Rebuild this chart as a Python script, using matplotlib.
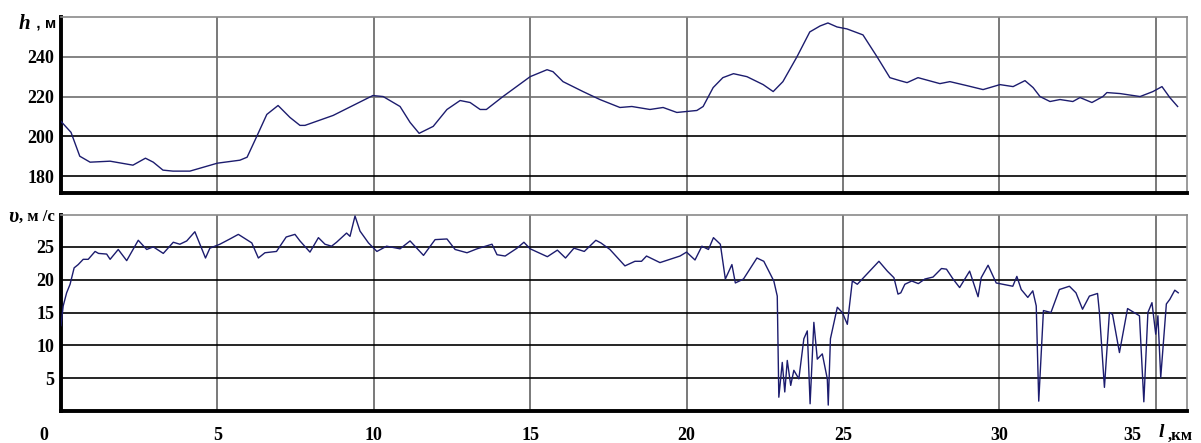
import matplotlib
matplotlib.use("Agg")
import matplotlib.pyplot as plt

# ---- data ----
h_km = [0.0, 0.32, 0.6, 0.93, 1.57, 2.3, 2.7, 2.95, 3.26, 3.58, 4.12, 5.0, 5.72, 5.95,
        6.26, 6.58, 6.94, 7.32, 7.64, 7.8, 8.7, 9.97, 10.3, 10.84, 11.16, 11.45, 11.9,
        12.34, 12.76, 13.08, 13.4, 13.6, 14.13, 15.0, 15.54, 15.73, 16.05, 16.69, 17.23,
        17.87, 18.25, 18.83, 19.25, 19.69, 20.33, 20.53, 20.85, 21.16, 21.5, 21.93, 22.45,
        22.77, 23.08, 23.53, 23.94, 24.27, 24.52, 24.81, 25.13, 25.64, 26.09, 26.5, 26.82,
        27.05, 27.4, 28.1, 28.42, 28.96, 29.48, 30.02, 30.44, 30.82, 31.08, 31.3, 31.62,
        31.94, 32.35, 32.58, 32.96, 33.31, 33.44, 33.86, 34.5, 34.91, 35.2, 35.45, 35.7]
h_m = [207.5, 202, 190, 187, 187.5, 185.5, 189, 187, 183, 182.5, 182.5, 186.5, 188, 189.5,
       200, 211, 215.5, 209.5, 205.5, 205.5, 210.5, 220.5, 220, 215, 207, 201.5, 205,
       213.5, 218, 217, 213.5, 213.5, 220, 230, 233.5, 232.5, 227.5, 222.5, 218.5,
       214.5, 215, 213.5, 214.5, 212, 213, 215, 224.5, 229.5, 231.5, 230, 226,
       222.5, 227.5, 240, 252.5, 255.5, 257, 255, 254, 251, 240, 229.5, 228,
       227, 229.5, 226.5, 227.5, 225.5, 223.5, 226, 225, 228, 224.5, 220, 217.5,
       218.5, 217.5, 219.5, 217, 220, 222, 221.5, 220, 222.5, 225, 219.5, 215]

v_km = [0.0, 0.07, 0.18, 0.29, 0.42, 0.55, 0.71, 0.87, 1.09, 1.2, 1.46, 1.57, 1.83, 2.1,
        2.47, 2.74, 2.95, 3.27, 3.59, 3.8, 4.02, 4.28, 4.44, 4.62, 4.76, 5.08, 5.4, 5.67,
        6.1, 6.31, 6.52, 6.89, 7.2, 7.48, 7.64, 7.96, 8.23, 8.44, 8.65, 8.81, 9.13, 9.24,
        9.4, 9.56, 9.83, 10.1, 10.41, 10.84, 11.16, 11.59, 11.96, 12.34, 12.6, 12.98, 13.3,
        13.78, 13.94, 14.2, 14.58, 14.8, 15.0, 15.55, 15.87, 16.13, 16.4, 16.73, 17.1,
        17.26, 17.55, 18.03, 18.35, 18.56, 18.72, 19.15, 19.79, 20.0, 20.27, 20.49, 20.7,
        20.86, 21.08, 21.24, 21.45, 21.56, 21.82, 22.25, 22.47, 22.79, 22.9, 22.95, 23.06,
        23.14, 23.22, 23.33, 23.43, 23.59, 23.75, 23.86, 23.95, 24.07, 24.18, 24.34, 24.5,
        24.53, 24.6, 24.82, 24.98, 25.14, 25.3, 25.46, 26.15, 26.42, 26.63, 26.76, 26.85,
        26.98, 27.2, 27.41, 27.62, 27.88, 28.15, 28.31, 28.52, 28.73, 29.05, 29.32, 29.42,
        29.64, 29.9, 30.11, 30.43, 30.56, 30.7, 30.91, 31.07, 31.18, 31.26, 31.41, 31.65,
        31.92, 32.24, 32.45, 32.66, 32.88, 33.14, 33.2, 33.36, 33.52, 33.62, 33.84, 34.1,
        34.48, 34.62, 34.75, 34.88, 35.0, 35.07, 35.16, 35.34, 35.45, 35.61, 35.72]
v_ms = [13.0, 16.0, 18.0, 19.3, 21.8, 22.3, 23.1, 23.1, 24.3, 24.0, 23.9, 23.1, 24.6, 22.9,
        26.0, 24.6, 25.0, 24.0, 25.7, 25.4, 25.9, 27.3, 25.4, 23.3, 24.8, 25.4, 26.2, 26.9,
        25.6, 23.3, 24.1, 24.3, 26.5, 26.9, 25.9, 24.2, 26.4, 25.4, 25.1, 25.7, 27.1, 26.6,
        29.7, 27.4, 25.6, 24.3, 25.1, 24.7, 25.9, 23.7, 26.1, 26.2, 24.6, 24.1, 24.7,
        25.4, 23.8, 23.6, 24.8, 25.7, 24.7, 23.5, 24.5, 23.3, 24.8, 24.3, 26.0,
        25.6, 24.6, 22.1, 22.8, 22.8, 23.6, 22.6, 23.6, 24.2, 23.0, 25.1, 24.6,
        26.4, 25.4, 20.1, 22.3, 19.5, 20.1, 23.3, 22.8, 19.8, 17.5, 2.1, 7.4,
        2.9, 7.7, 3.9, 6.2, 4.9, 11.0, 12.2, 1.1, 13.5, 7.9, 8.7, 4.9,
        0.9, 11.0, 15.8, 15.0, 13.2, 19.8, 19.3, 22.8, 21.3, 20.3, 17.8, 18.0,
        19.3, 19.8, 19.4, 20.1, 20.4, 21.7, 21.6, 20.1, 18.8, 21.3, 17.4, 20.3,
        22.2, 19.5, 19.3, 19.0, 20.5, 18.5, 17.3, 18.3, 16.0, 1.5, 15.3, 15.0,
        18.5, 19.0, 18.0, 15.5, 17.5, 17.9, 15.0, 3.6, 15.0, 14.7, 8.9, 15.6,
        14.5, 1.4, 15.0, 16.5, 11.7, 14.5, 5.1, 16.3, 17.0, 18.4, 18.0]

x_ticks = [0, 5, 10, 15, 20, 25, 30, 35]
h_ticks = [180, 200, 220, 240]
v_ticks = [5, 10, 15, 20, 25]

# ---- style ----
W, H = 1201, 443
SERIF = "Liberation Serif"
LINE = "#1c1c6e"
GRID_V = "#6e6e6e"
FS = 13

fig = plt.figure(figsize=(W / 100, H / 100), dpi=100)

def frac_box(l, t, r, b):
    return [l / W, 1 - b / H, (r - l) / W, (b - t) / H]

ax1 = fig.add_axes(frac_box(61, 17, 1187, 193))
ax2 = fig.add_axes(frac_box(61, 215, 1187, 411))

def style(ax, yticks, hcolors):
    ax.set_xlim(0, 36)
    for s in ("top", "right"):
        ax.spines[s].set_color("#8a8a8a")
        ax.spines[s].set_linewidth(1.2)
    for s in ("left", "bottom"):
        ax.spines[s].set_color("black")
        ax.spines[s].set_linewidth(2.8)
    for xv in x_ticks[1:]:
        ax.axvline(xv, color=GRID_V, lw=1.3, zorder=1)
    for yv, c in zip(yticks, hcolors):
        ax.axhline(yv, color=c, lw=1.2, zorder=1)
    ax.set_yticks(yticks)
    ax.set_yticklabels([str(t) for t in yticks], fontfamily=SERIF,
                       fontweight="bold", fontsize=FS)
    ax.tick_params(axis="y", length=0, pad=5)
    ax.set_xticks([])
    ax.tick_params(axis="x", length=0)

ax1.set_ylim(171.5, 260)
style(ax1, h_ticks, ["black", "black", "#6e6e6e", "#6e6e6e"])
ax1.plot(h_km, h_m, color=LINE, lw=1.0, zorder=3)

ax2.set_ylim(0, 29.85)
style(ax2, v_ticks, ["black"] * 5)
ax2.plot(v_km, v_ms, color=LINE, lw=1.0, zorder=3)

# x tick labels (drawn below lower axes)
for xv in x_ticks:
    off = 0.0
    if xv == 0:
        off = -0.55
    if xv == 35:
        off = -0.75
    ax2.text(xv + off, -0.08, str(xv), transform=ax2.get_xaxis_transform(),
             ha="center", va="top", fontfamily=SERIF, fontweight="bold", fontsize=FS)

ax2.text(35.1, -0.065, "l", transform=ax2.get_xaxis_transform(), ha="left", va="top",
         fontfamily=SERIF, fontweight="bold", fontstyle="italic", fontsize=14)
ax2.text(35.38, -0.085, ",км", transform=ax2.get_xaxis_transform(), ha="left", va="top",
         fontfamily=SERIF, fontweight="bold", fontsize=12)

# axis labels
fig.text(19 / W, 1 - 24 / H, "h", fontfamily=SERIF, fontweight="bold",
         fontstyle="italic", fontsize=15, va="center", ha="left")
fig.text(32 / W, 1 - 24 / H, " , м", fontfamily="Liberation Sans", fontweight="bold",
         fontsize=11, va="center", ha="left")
fig.text(8 / W, 1 - 217 / H, "υ", fontfamily=SERIF, fontweight="bold",
         fontstyle="italic", fontsize=15, va="center", ha="left")
fig.text(19 / W, 1 - 217 / H, ", м /с", fontfamily=SERIF, fontweight="bold",
         fontsize=12, va="center", ha="left")

fig.savefig("out.png", dpi=100)
